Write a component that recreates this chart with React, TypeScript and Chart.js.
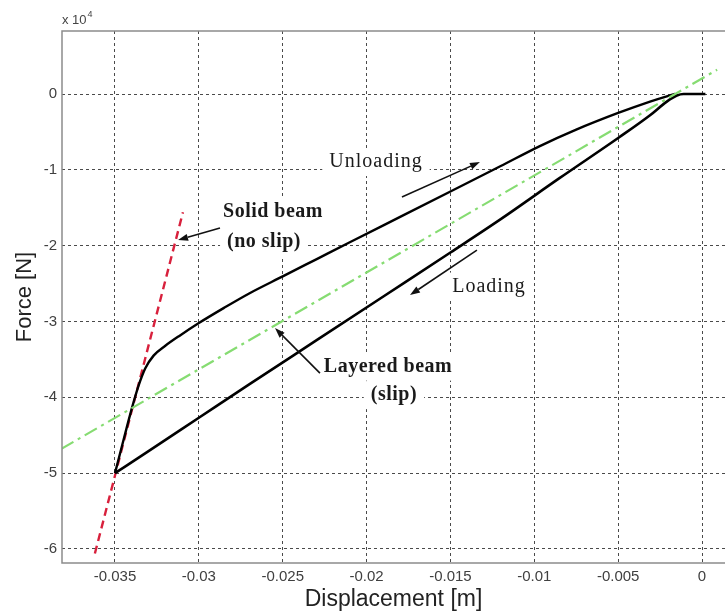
import React, { useEffect, useRef } from "react";
import { Chart, registerables } from "chart.js";

Chart.register(...registerables);

// Axis ticks
const xTicks = [-0.035, -0.03, -0.025, -0.02, -0.015, -0.01, -0.005, 0];
const xTickLabels = ["-0.035", "-0.03", "-0.025", "-0.02", "-0.015", "-0.01", "-0.005", "0"];
const yTicks = [0, -10000, -20000, -30000, -40000, -50000, -60000];
const yTickLabels = ["0", "-1", "-2", "-3", "-4", "-5", "-6"];

// Unloading branch (upper curve), displacement [m] and force [N]
const unloadingX = [-0.035, -0.0345, -0.034, -0.0336, -0.0332, -0.0327, -0.032, -0.0311, -0.03, -0.0285, -0.027, -0.025, -0.023, -0.021, -0.018, -0.015, -0.012, -0.0097, -0.0075, -0.005, -0.0031, -0.0021, -0.0016];
const unloadingY = [-50000, -45700, -41500, -38500, -36200, -34500, -33200, -31800, -30200, -28200, -26300, -24050, -21800, -19550, -16200, -12850, -9500, -6900, -4700, -2500, -1000, -300, 0];

// Loading branch (lower curve)
const loadingX = [0.0002, -0.0011, -0.0015, -0.0021, -0.0031, -0.005, -0.0085, -0.012, -0.015, -0.019, -0.023, -0.027, -0.03, -0.033, -0.035];
const loadingY = [0, 0, -200, -1000, -2800, -5800, -11100, -16500, -20900, -26700, -32500, -38300, -42700, -47100, -50000];

// Solid beam (no slip) stiffness line
const solidX = [-0.0362, -0.03095];
const solidY = [-60600, -15600];

// Layered beam (slip) stiffness line
const layeredX = [-0.0382, 0.0009];
const layeredY = [-46800, 3200];

const SANS = "'Liberation Sans', Arial, Helvetica, sans-serif";
const SERIF = "'Liberation Serif', 'Times New Roman', serif";

const labels = [
  { text: "Solid beam", x: -0.02856, y: -15570, bold: true, align: "left" },
  { text: "(no slip)", x: -0.02832, y: -19520, bold: true, align: "left" },
  { text: "Unloading", x: -0.01944, y: -8970, bold: false, align: "center" },
  { text: "Loading", x: -0.0127, y: -25400, bold: false, align: "center" },
  { text: "Layered beam", x: -0.01872, y: -35950, bold: true, align: "center" },
  { text: "(slip)", x: -0.01837, y: -39710, bold: true, align: "center" },
];

const arrows = [
  { x1: -0.02874, y1: -17680, x2: -0.03124, y2: -19260 },
  { x1: -0.01789, y1: -13590, x2: -0.01324, y2: -8970 },
  { x1: -0.01342, y1: -20580, x2: -0.01741, y2: -26520 },
  { x1: -0.02278, y1: -36810, x2: -0.02546, y2: -30870 },
];

const toPts = (xs: number[], ys: number[]) =>
  xs.map((x, i) => ({ x, y: ys[i] })).sort((a, b) => a.x - b.x);

function setLabelFont(ctx: CanvasRenderingContext2D, bold: boolean) {
  ctx.font = `${bold ? "bold " : ""}20px ${SERIF}`;
  (ctx as any).letterSpacing = bold ? "0.5px" : "1px";
}

const decorPlugin = {
  id: "decor",
  beforeDatasetsDraw(chart: any) {
    const { ctx, scales } = chart;
    ctx.save();
    ctx.textBaseline = "middle";
    for (const l of labels) {
      setLabelFont(ctx, l.bold);
      const w = ctx.measureText(l.text).width;
      const px = scales.x.getPixelForValue(l.x);
      const py = scales.y.getPixelForValue(l.y);
      const left = l.align === "left" ? px : px - w / 2;
      ctx.fillStyle = "#ffffff";
      ctx.fillRect(left - 7, py - 14, w + 14, 28);
    }
    ctx.restore();
  },
  afterDatasetsDraw(chart: any) {
    const { ctx, scales, chartArea } = chart;
    ctx.save();
    // text labels
    ctx.textBaseline = "middle";
    ctx.fillStyle = "#1a1a1a";
    for (const l of labels) {
      setLabelFont(ctx, l.bold);
      ctx.textAlign = l.align as CanvasTextAlign;
      ctx.fillText(l.text, scales.x.getPixelForValue(l.x), scales.y.getPixelForValue(l.y));
    }
    (ctx as any).letterSpacing = "0px";
    // arrows
    ctx.strokeStyle = "#111";
    ctx.fillStyle = "#111";
    ctx.lineWidth = 1.6;
    for (const a of arrows) {
      const x1 = scales.x.getPixelForValue(a.x1);
      const y1 = scales.y.getPixelForValue(a.y1);
      const x2 = scales.x.getPixelForValue(a.x2);
      const y2 = scales.y.getPixelForValue(a.y2);
      const ang = Math.atan2(y2 - y1, x2 - x1);
      const hl = 10, hw = 3.5;
      const bx = x2 - hl * Math.cos(ang);
      const by = y2 - hl * Math.sin(ang);
      ctx.beginPath();
      ctx.moveTo(x1, y1);
      ctx.lineTo(bx, by);
      ctx.stroke();
      ctx.beginPath();
      ctx.moveTo(x2, y2);
      ctx.lineTo(bx + hw * Math.sin(ang), by - hw * Math.cos(ang));
      ctx.lineTo(bx - hw * Math.sin(ang), by + hw * Math.cos(ang));
      ctx.closePath();
      ctx.fill();
    }
    // frame
    ctx.setLineDash([]);
    ctx.strokeStyle = "#8c8c8c";
    ctx.lineWidth = 1.5;
    ctx.beginPath();
    ctx.moveTo(chart.width, chartArea.top);
    ctx.lineTo(chartArea.left, chartArea.top);
    ctx.lineTo(chartArea.left, chartArea.bottom);
    ctx.lineTo(chart.width, chartArea.bottom);
    ctx.stroke();
    // exponent label
    ctx.fillStyle = "#444";
    ctx.textAlign = "left";
    ctx.textBaseline = "alphabetic";
    ctx.font = `13px ${SANS}`;
    ctx.fillText("x 10", chartArea.left, chartArea.top - 7);
    const w = ctx.measureText("x 10").width;
    ctx.font = `9px ${SANS}`;
    ctx.fillText("4", chartArea.left + w + 1, chartArea.top - 14);
    ctx.restore();
  },
};

export default function App() {
  const ref = useRef<HTMLCanvasElement>(null);

  useEffect(() => {
    const chart = new Chart(ref.current!, {
      type: "scatter",
      data: {
        datasets: [
          {
            label: "Layered beam (slip)",
            data: toPts(layeredX, layeredY),
            showLine: true,
            borderColor: "#86dc72",
            borderWidth: 2.2,
            borderDash: [14, 5, 3, 5],
            pointRadius: 0,
          },
          {
            label: "Loading",
            data: toPts(loadingX, loadingY),
            showLine: true,
            borderColor: "#000000",
            borderWidth: 2.6,
            pointRadius: 0,
            cubicInterpolationMode: "monotone",
          },
          {
            label: "Unloading",
            data: toPts(unloadingX, unloadingY),
            showLine: true,
            borderColor: "#000000",
            borderWidth: 2.4,
            pointRadius: 0,
            cubicInterpolationMode: "monotone",
          },
          {
            label: "Solid beam (no slip)",
            data: toPts(solidX, solidY),
            showLine: true,
            borderColor: "#d8203c",
            borderWidth: 2.4,
            borderDash: [8, 5],
            pointRadius: 0,
          },
        ],
      },
      options: {
        animation: false,
        responsive: false,
        layout: { padding: { top: 31, right: 0, left: 0, bottom: 0 } },
        plugins: { legend: { display: false }, tooltip: { enabled: false } },
        scales: {
          x: {
            type: "linear",
            position: "bottom",
            min: -0.03816,
            max: 0.00137,
            afterBuildTicks: (s: any) => {
              s.ticks = xTicks.map((v) => ({ value: v }));
            },
            afterFit: (s: any) => {
              s.height = 50;
              s.paddingLeft = 0;
              s.paddingRight = 0;
            },
            ticks: {
              autoSkip: false,
              maxRotation: 0,
              padding: 5,
              color: "#404040",
              font: { family: SANS, size: 15 },
              callback: (v: any) => {
                const i = xTicks.findIndex((t) => Math.abs(t - Number(v)) < 1e-9);
                return i >= 0 ? xTickLabels[i] : "";
              },
            },
            grid: { color: "#4a4a4a", lineWidth: 1, drawTicks: false },
            border: { display: false, dash: [3, 3] },
            title: {
              display: true,
              text: "Displacement [m]",
              color: "#222",
              font: { family: SANS, size: 23 },
              padding: { top: 0, bottom: 0 },
            },
          },
          y: {
            type: "linear",
            min: -61850,
            max: 8310,
            afterBuildTicks: (s: any) => {
              s.ticks = yTicks.map((v) => ({ value: v }));
            },
            afterFit: (s: any) => {
              s.width = 62;
              s.paddingTop = 0;
              s.paddingBottom = 0;
            },
            ticks: {
              autoSkip: false,
              padding: 5,
              color: "#404040",
              font: { family: SANS, size: 15 },
              callback: (v: any) => {
                const i = yTicks.findIndex((t) => Math.abs(t - Number(v)) < 1e-6);
                return i >= 0 ? yTickLabels[i] : "";
              },
            },
            grid: { color: "#4a4a4a", lineWidth: 1, drawTicks: false },
            border: { display: false, dash: [3, 3] },
            title: {
              display: true,
              text: "Force [N]",
              color: "#222",
              font: { family: SANS, size: 22 },
              padding: { top: 12, bottom: 0 },
            },
          },
        },
      },
      plugins: [decorPlugin],
    } as any);
    return () => chart.destroy();
  }, []);

  return (
    <div style={{ position: "fixed", left: 0, top: 0, width: 725, height: 613, background: "#fff" }}>
      <canvas ref={ref} width={725} height={613} style={{ display: "block", width: 725, height: 613 }} />
    </div>
  );
}
